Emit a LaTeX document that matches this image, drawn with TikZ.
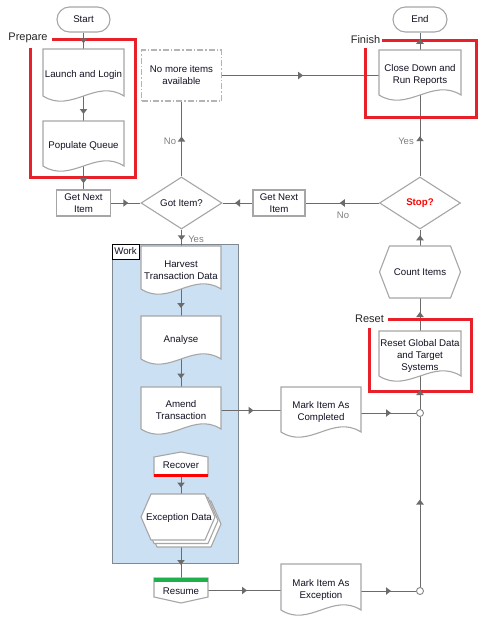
\documentclass[tikz,border=0pt]{standalone}
\usepackage{fontspec}
\setmainfont{Liberation Sans}
\usetikzlibrary{shapes.geometric,decorations.markings,calc}
\definecolor{linec}{HTML}{6B6B6B}
\definecolor{bordc}{HTML}{A6A6A6}
\definecolor{redf}{HTML}{E8202A}
\definecolor{workblue}{HTML}{CCE0F3}
\definecolor{workbord}{HTML}{7F8790}
\definecolor{greenbar}{HTML}{1DB04B}
\definecolor{lblgray}{HTML}{808080}
\definecolor{txtc}{HTML}{111122}
\definecolor{nmgray}{HTML}{B4B4B4}
\pgfdeclarelayer{back}
\pgfdeclarelayer{conn}
\pgfdeclarelayer{front}
\pgfsetlayers{back,conn,main,front}
\tikzset{
  txt/.style={font=\fontsize{9.7}{12}\selectfont, text=txtc, align=center, inner sep=0pt},
  lbl/.style={font=\fontsize{9.5}{12}\selectfont, text=lblgray, inner sep=0pt},
  framelbl/.style={font=\fontsize{11}{13}\selectfont, text=black!85, inner sep=0pt},
  abox/.style={rectangle, inner sep=0pt, outer sep=0pt, draw=none},
  shapestyle/.style={fill=white, draw=bordc, line width=1.1pt, line join=miter},
  plainbox/.style={txt, draw=bordc, fill=white, line width=1.1pt},
  redframe/.style={draw=redf, line width=3pt},
  connline/.style={draw=linec, line width=1pt},
  midarr/.style={decorate, decoration={markings,
      mark=at position 0.5 with {\fill[linec] (2.5pt,0pt) -- (-2.5pt,3.8pt) -- (-2.5pt,-3.8pt) -- cycle;}}},
}
% #1 line start, #2 line end, #3 and #4: ends of the span on which the mid arrow is centred
\newcommand{\connect}[4]{%
  \begin{pgfonlayer}{conn}\draw[connline] (#1) -- (#2);\end{pgfonlayer}%
  \begin{pgfonlayer}{front}\path[midarr] (#3) -- (#4);\end{pgfonlayer}%
}
\newcommand{\docshape}[6]{%
  \pgfmathsetmacro{\dw}{#4-#2}%
  \pgfmathsetmacro{\dca}{#4-0.35*\dw}%
  \pgfmathsetmacro{\dcb}{#2+0.35*\dw}%
  \pgfmathsetmacro{\dya}{#5-18}%
  \pgfmathsetmacro{\dyb}{#5+18}%
  \pgfmathsetmacro{\dcx}{(#2+#4)/2}%
  \pgfmathsetmacro{\dcy}{(#3+#5)/2}%
  \pgfmathsetmacro{\dty}{(#3+#5+5)/2}%
  \pgfmathsetmacro{\dh}{#5-#3}%
  \filldraw[shapestyle] (#2,#3) -- (#4,#3) -- (#4,#5) .. controls (\dca,\dya) and (\dcb,\dyb) .. (#2,#5) -- cycle;
  \node[abox, minimum width=\dw pt, minimum height=\dh pt] (#1) at (\dcx,\dcy) {};
  \node[txt] (#1-t) at (\dcx,\dty) {#6};
}
\begin{document}
\begin{tikzpicture}[x=1pt,y=-1pt]
\useasboundingbox (0,0) rectangle (498,624);
\begin{pgfonlayer}{back}
  \fill[white] (0,0) rectangle (498,624);
  \draw[fill=workblue, draw=workbord, line width=1pt] (112,244) rectangle (238,563);
  \node[txt, draw=black, fill=white, line width=0.8pt, minimum width=27pt, minimum height=15pt] (work) at (125.5,251.5) {Work};
\end{pgfonlayer}

% terminals
\node[plainbox, rounded corners=12.5pt, minimum width=53pt, minimum height=25pt] (start) at (83.5,19.5) {Start};
\node[plainbox, rounded corners=12.5pt, minimum width=54pt, minimum height=25pt] (end) at (420,19.5) {End};

% documents
\docshape{launch}{43}{49}{124}{96}{Launch and Login}
\docshape{populate}{43}{121}{124}{166}{Populate Queue}
\docshape{close}{379}{50}{461}{95}{Close Down and\\Run Reports}
\docshape{harvest}{141}{246}{221}{289}{Harvest\\Transaction Data}
\docshape{analyse}{141}{316}{221}{359}{Analyse}
\docshape{amend}{141}{387}{221}{429}{Amend\\Transaction}
\docshape{markc}{281}{387}{361}{432}{Mark Item As\\Completed}
\docshape{reset}{379}{331}{461}{376}{Reset Global Data\\and Target\\Systems}
\docshape{markx}{281}{564}{361}{610}{Mark Item As\\Exception}

% boxes
\node[plainbox, minimum width=54pt, minimum height=26pt] (gn1) at (83.5,203) {Get Next\\Item};
\node[plainbox, minimum width=52pt, minimum height=26pt] (gn2) at (279,203) {Get Next\\Item};
\node[txt, draw=nmgray, fill=white, line width=1.4pt, dash pattern=on 6pt off 2pt on 1.5pt off 2pt,
      minimum width=80pt, minimum height=51pt] (nomore) at (181.5,75.5) {No more items\\available};

% decisions
\node[txt, diamond, draw=bordc, fill=white, line width=1.1pt, aspect=1.56,
      minimum width=81pt, minimum height=52pt] (got) at (181.5,203) {Got Item?};
\node[txt, diamond, draw=bordc, fill=white, line width=1.1pt, aspect=1.56,
      minimum width=81pt, minimum height=52pt, text=red, font=\fontsize{9.7}{12}\selectfont\bfseries] (stop) at (420,203) {Stop?};

% count items hexagon
\filldraw[shapestyle] (379.5,272) -- (389.5,246) -- (450.5,246) -- (460.5,272) -- (450.5,298) -- (389.5,298) -- cycle;
\node[abox, minimum width=81pt, minimum height=52pt] (count) at (420,272) {};
\node[txt] (count-t) at (420,272) {Count Items};

% recover
\filldraw[shapestyle] (154,457) -- (181,452) -- (208,457) -- (208,476) -- (154,476) -- cycle;
\fill[red] (154,473.5) rectangle (208,476.5);
\node[abox, minimum width=54pt, minimum height=24pt] (recover) at (181,464) {};
\node[txt] (recover-t) at (181,465) {Recover};

% exception data stack
\foreach \o/\p in {6/7,3/3.5,0/0} {
  \filldraw[shapestyle] (141+\o,517+\p) -- (151+\o,494+\p) -- (205+\o,494+\p) -- (215+\o,517+\p) -- (205+\o,540+\p) -- (151+\o,540+\p) -- cycle;
}
\node[abox, minimum width=80pt, minimum height=53pt] (exc) at (181,520.5) {};
\node[txt] (exc-t) at (179,518) {Exception Data};

% resume
\filldraw[shapestyle] (154,578) -- (208,578) -- (208,597) -- (181,603) -- (154,597) -- cycle;
\fill[greenbar] (154,577.5) rectangle (208,581.5);
\node[abox, minimum width=54pt, minimum height=25pt] (resume) at (181,590.5) {};
\node[txt] (resume-t) at (181,591) {Resume};

% junctions
\node[circle, draw=bordc!80!black, fill=white, line width=0.9pt, minimum size=7pt, inner sep=0pt] (j1) at (420,413) {};
\node[circle, draw=bordc!80!black, fill=white, line width=0.9pt, minimum size=7pt, inner sep=0pt] (j2) at (420,591) {};

% connectors
\connect{start.south}{launch.north}{start.south}{launch.north}
\connect{launch.south}{populate.north}{[yshift=-6pt]launch.south}{populate.north}
\connect{populate.south}{gn1.north}{[yshift=-6pt]populate.south}{gn1.north}
\connect{gn1.east}{got.west}{gn1.east}{got.west}
\connect{got.north}{got.north |- nomore.south}{got.north}{got.north |- nomore.south}
\connect{nomore.east}{nomore.east -| close.west}{nomore.east}{nomore.east -| close.west}
\connect{close.north}{end.south}{close.north}{end.south}
\connect{stop.north}{close.south}{stop.north}{[yshift=-6pt]close.south}
\connect{stop.west}{gn2.east}{stop.west}{gn2.east}
\connect{gn2.west}{got.east}{gn2.west}{got.east}
\connect{got.south}{got.south |- harvest.north}{got.south}{got.south |- harvest.north}
\connect{harvest.south}{analyse.north}{[yshift=-6pt]harvest.south}{analyse.north}
\connect{analyse.south}{amend.north}{[yshift=-6pt]analyse.south}{amend.north}
\connect{amend.east |- amend-t.center}{markc.west |- amend-t.center}{amend.east |- amend-t.center}{markc.west |- amend-t.center}
\connect{markc.east |- j1.west}{j1.west}{markc.east |- j1.west}{j1.west}
\connect{j1.north}{reset.south}{j1.north}{reset.south}
\connect{reset.north}{count.south}{reset.north}{count.south}
\connect{count.north}{stop.south}{count.north}{stop.south}
\connect{recover.south}{exc.north}{recover.south}{exc.north}
\connect{exc.south}{resume.north}{exc.south}{resume.north}
\connect{resume.east}{markx.west |- resume.east}{resume.east}{markx.west |- resume.east}
\connect{markx.east |- j2.west}{j2.west}{markx.east |- j2.west}{j2.west}
\connect{j2.north}{j1.south}{j2.north}{j1.south}

% connector labels
\node[lbl] (no1) at (170,141) {No};
\node[lbl] (yes1) at (406,141) {Yes};
\node[lbl] (no2) at (343,215) {No};
\node[lbl] (yes2) at (196,239) {Yes};

% red frames
\draw[redframe] (30,48) -- (30,177) -- (135,177) -- (135,39) -- (52,39);
\node[framelbl] (prep) at (28,38) {Prepare};
\draw[redframe] (365,48) -- (365,117) -- (476,117) -- (476,40) -- (382,40);
\node[framelbl] (fin) at (365.5,40) {Finish};
\draw[redframe] (369,328) -- (369,391) -- (471,391) -- (471,319) -- (388,319);
\node[framelbl] (rst) at (369.5,319) {Reset};
\end{tikzpicture}
\end{document}
